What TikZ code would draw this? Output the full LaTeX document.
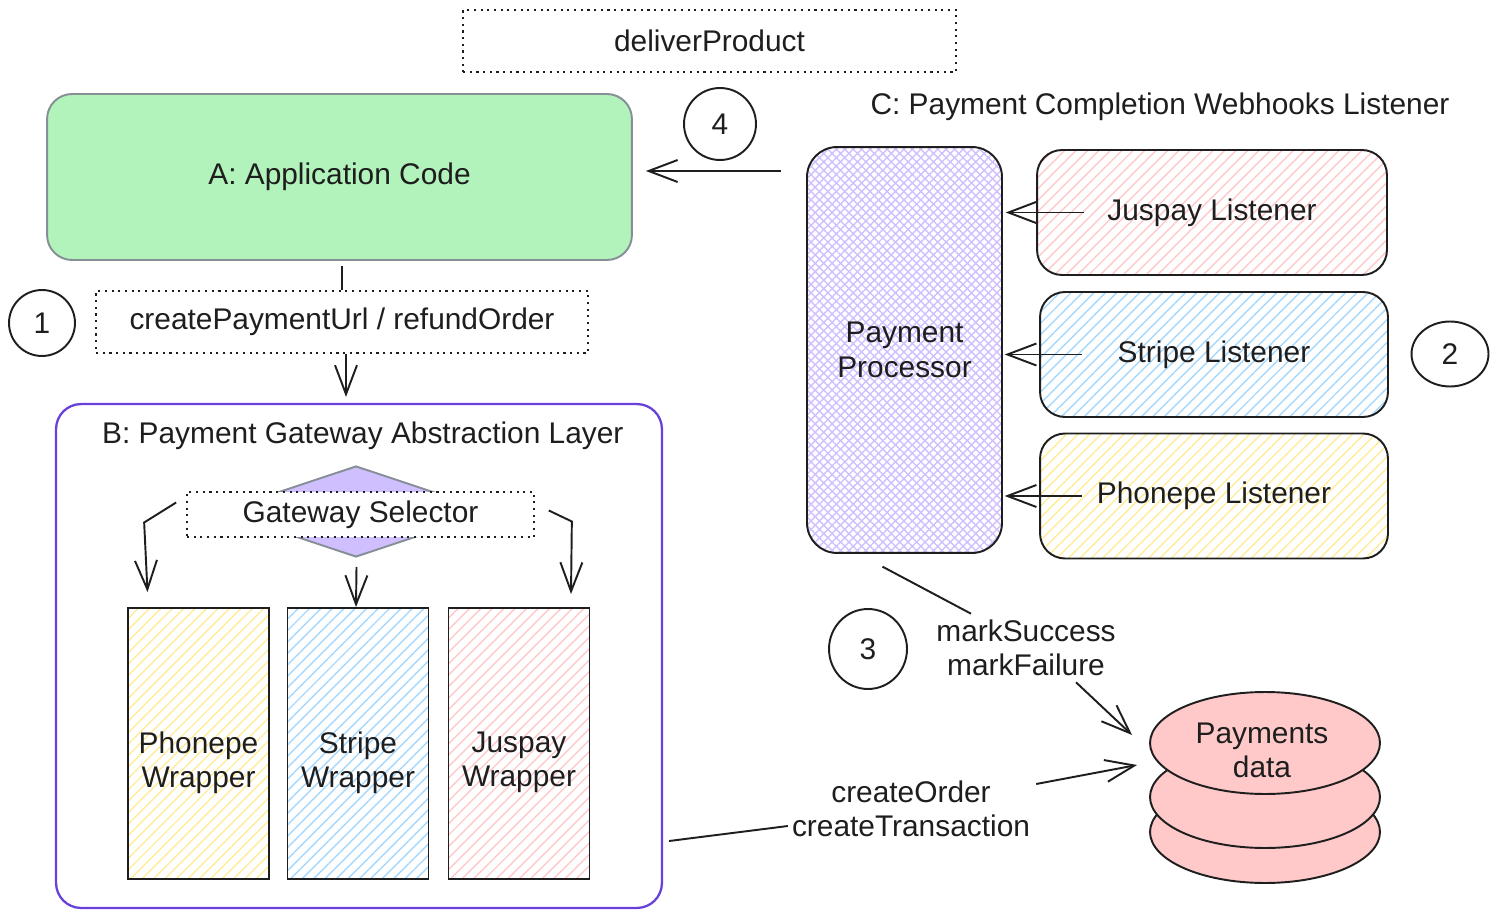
\documentclass[tikz,border=0pt]{standalone}
\usepackage{fontspec}
\setmainfont{Liberation Sans}
\usetikzlibrary{arrows.meta,patterns.meta,shapes.geometric}
\definecolor{ink}{HTML}{1E1E1E}
\definecolor{cgrey}{HTML}{868E96}
\definecolor{hgreen}{HTML}{B2F2BB}
\definecolor{hred}{HTML}{FFC9C9}
\definecolor{hblue}{HTML}{A5D8FF}
\definecolor{hyellow}{HTML}{FFEC99}
\definecolor{hviolet}{HTML}{D0BFFF}
\definecolor{bviolet}{HTML}{6741D9}

\begin{document}
\begin{tikzpicture}[x=0.02cm,y=-0.02cm,
  every node/.style={font=\fontsize{17}{19.5}\selectfont,text=ink,align=center},
  line/.style={draw=ink,line width=1.1pt},
  arr/.style={line,-{Straight Barb[length=5.8mm,width=4.4mm,line width=1.1pt]}},
  dotbox/.style={draw=ink,line width=1pt,dash pattern=on 1.2pt off 2.6pt,fill=white},
  numcirc/.style={draw=ink,ellipse,line width=1.1pt,inner sep=0pt},
  hatch/.style={draw=ink,line width=1.1pt,pattern={Lines[angle=45,distance=4.6pt,line width=0.8pt]},pattern color=#1},
  listenbox/.style={hatch=#1,rounded corners=0.5cm,minimum width=6.96cm,minimum height=2.5cm},
  wrapbox/.style={hatch=#1,minimum width=2.82cm,minimum height=5.42cm},
  dbdisk/.style={draw=ink,fill=hred,ellipse,line width=1.1pt,minimum width=4.6cm,minimum height=2.04cm}]
\useasboundingbox (0,0) rectangle (1500,918);
\node[dotbox,minimum width=9.86cm,minimum height=1.24cm] (deliver) at (709.5,41) {deliverProduct};
\node[draw=cgrey,fill=hgreen,line width=1.1pt,rounded corners=0.5cm,minimum width=11.7cm,minimum height=3.32cm] (app) at (339.5,177) {A: Application Code};
\node[numcirc,minimum width=1.44cm,minimum height=1.44cm] (n4) at (720,124) {4};
\node (ctitle) at (1160,107) {C: Payment Completion Webhooks Listener};
\node[hatch=hviolet,rounded corners=0.6cm,minimum width=3.9cm,minimum height=8.12cm,
  preaction={pattern={Lines[angle=-45,distance=3.4pt,line width=0.8pt]},pattern color=hviolet},
  pattern={Lines[angle=45,distance=3.4pt,line width=0.8pt]}] (proc) at (904.5,350) {Payment\\Processor};
\node[listenbox=hred,minimum width=7cm] (juspayL) at (1212,212.5) {Juspay Listener};
\node[listenbox=hblue] (stripeL) at (1214,354.5) {Stripe Listener};
\node[listenbox=hyellow] (phonepeL) at (1214,496) {Phonepe Listener};
\node[numcirc,minimum width=1.54cm,minimum height=1.3cm] (n2) at (1450,354) {2};
\node[numcirc,minimum width=1.32cm,minimum height=1.32cm] (n1) at (42,323) {1};
\node[dotbox,minimum width=9.84cm,minimum height=1.24cm] (call) at (342,322) {createPaymentUrl / refundOrder};
\node[draw=bviolet,line width=1.3pt,rounded corners=0.5cm,minimum width=12.12cm,minimum height=10.08cm] (layer) at (359,656) {};
\node[anchor=west] (btitle) at (96,436) {B: Payment Gateway Abstraction Layer};
\node[diamond,draw=cgrey,fill=hviolet,line width=1.1pt,inner sep=0pt,minimum width=5.44cm,minimum height=1.82cm] (selshape) at (356,511.5) {};
\node[dotbox,minimum width=6.94cm,minimum height=0.9cm] (sel) at (360.5,514.5) {Gateway Selector};
\node[wrapbox=hyellow] (phonepeW) at (198.5,743.5) {};
\node[wrapbox=hblue] (stripeW) at (358,743.5) {};
\node[wrapbox=hred] (juspayW) at (519,743.5) {};
\node (phonepeT) at ([yshift=-0.38cm]phonepeW.center) {Phonepe\\Wrapper};
\node (stripeT) at ([yshift=-0.38cm]stripeW.center) {Stripe\\Wrapper};
\node (juspayT) at ([yshift=-0.38cm]juspayW.center) {Juspay\\Wrapper};
\node[numcirc,minimum width=1.56cm,minimum height=1.6cm] (n3) at (868,649) {3};
\node (mklbl) at (1026,648) {markSuccess\\markFailure};
\node (ordlbl) at (911,809) {createOrder\\createTransaction};
\node[dbdisk] (db3) at (1265,832) {};
\node[dbdisk] (db2) at (1265,797) {};
\node[dbdisk] (db) at (1265,743) {};
\node (dbtxt) at (1262,750) {Payments\\data};
\draw[line] ([shift={(0,5)}]app.south -| call.north) -- (call.north);
\draw[arr] ([shift={(4,0)}]call.south) -- ([shift={(4,-6)}]call.south |- layer.north);
\draw[arr] ([shift={(-25,-6)}]proc.west |- app.east) -- ([shift={(13,-6)}]app.east);
\draw[arr] ([shift={(48,0)}]juspayL.west) -- ([shift={(3,0)}]juspayL.west -| proc.east);
\draw[arr] ([shift={(43,0)}]stripeL.west) -- ([shift={(2,0)}]stripeL.west -| proc.east);
\draw[arr] ([shift={(43,0)}]phonepeL.west) -- ([shift={(2,0)}]phonepeL.west -| proc.east);
\draw[arr] ([shift={(-10,-12)}]sel.west) -- ++(-32,20) -- ([shift={(-51,-15)}]phonepeW.north);
\draw[arr] ([shift={(-4,29)}]sel.south) -- ([shift={(-2,0)}]stripeW.north);
\draw[arr] ([shift={(14,-4)}]sel.east) -- ++(23,11) -- ([shift={(52,-13)}]juspayW.north);
\draw[line] ([shift={(6,185)}]layer.east) -- ([shift={(2,17)}]ordlbl.west);
\draw[arr] ([shift={(0,-25)}]ordlbl.east) -- ([shift={(-12,22)}]db.west);
\draw[line] ([shift={(-22,13)}]proc.south) -- ([shift={(-55,0)}]mklbl.north);
\draw[arr] ([shift={(50,0)}]mklbl.south) -- ([shift={(-17,-8)}]db.west);
\end{tikzpicture}
\end{document}
